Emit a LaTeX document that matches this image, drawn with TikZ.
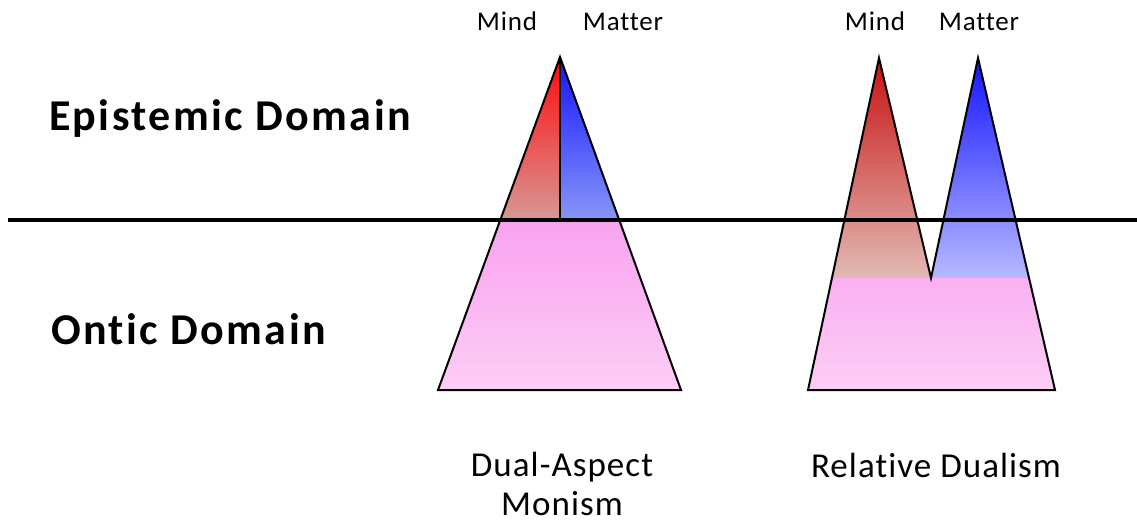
\documentclass[tikz,border=0pt]{standalone}
\usepackage{fontspec}
\setmainfont{Carlito}[Ligatures=CommonOff]

\definecolor{redtop}{RGB}{255,10,10}
\definecolor{redlow}{RGB}{214,152,150}
\definecolor{bluetop}{RGB}{20,20,255}
\definecolor{bluelow}{RGB}{135,150,246}
\definecolor{darkredtop}{RGB}{200,18,18}
\definecolor{darkredlow}{RGB}{226,186,180}
\definecolor{paleblue}{RGB}{182,186,255}
\definecolor{pinktop}{RGB}{249,162,240}
\definecolor{pinklow}{RGB}{252,206,245}

\tikzset{
  domain label/.style={anchor=base west,inner sep=0,
    font=\fontsize{44}{50}\selectfont\bfseries\addfontfeatures{LetterSpace=5.5}},
  aspect label/.style={anchor=base,inner sep=0,
    font=\fontsize{27}{32}\selectfont\addfontfeatures{LetterSpace=3}},
  caption/.style={anchor=base,inner sep=0,align=center,
    font=\fontsize{35}{39}\selectfont\addfontfeatures{LetterSpace=3}}
}

\begin{document}
\begin{tikzpicture}[x=1pt,y=-1pt,line width=2pt]

\useasboundingbox (0,0) rectangle (1137,524);

% Domain labels
\node[domain label] (epistemic) at (48,131) {Epistemic Domain};
\node[domain label] (ontic) at (50,344) {Ontic Domain};

% Dual-aspect monism
\fill[top color=redtop,bottom color=redlow] (560,57) -- (500.3,220) -- (560,220) -- cycle;
\fill[top color=bluetop,bottom color=bluelow] (560,57) -- (619.2,220) -- (560,220) -- cycle;
\fill[top color=pinktop,bottom color=pinklow] (500.3,220) -- (619.2,220) -- (681,390) -- (438,390) -- cycle;
\draw (560,57) -- (681,390) -- (438,390) -- cycle;
\draw (560,57) -- (560,220);

% Relative dualism
\fill[top color=darkredtop,bottom color=darkredlow] (879,58) -- (931,278) -- (832,278) -- cycle;
\fill[top color=bluetop,bottom color=paleblue] (978,58) -- (1029,278) -- (931,278) -- cycle;
\fill[top color=pinktop!85!white,bottom color=pinklow] (832,278) -- (1029,278) -- (1055,390) -- (808,390) -- cycle;
\draw (808,390) -- (879,58) -- (931,278) -- (978,58) -- (1055,390) -- cycle;

% Boundary
\draw[line width=4pt] (8,220) -- (1137,220);

% Aspects
\node[aspect label] (mindA) at (507,31) {Mind};
\node[aspect label] (matterA) at (623,31) {Matter};
\node[aspect label] (mindB) at (875,31) {Mind};
\node[aspect label] (matterB) at (979,31) {Matter};

% Captions
\node[caption] (monism) at (562,515) {Dual-Aspect\\Monism};
\node[caption] (dualism) at (936,477) {Relative Dualism};

\end{tikzpicture}
\end{document}
